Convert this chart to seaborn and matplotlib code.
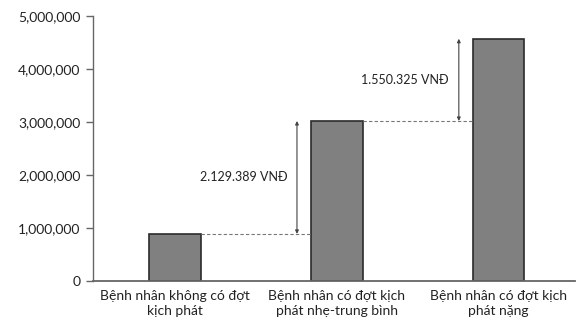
import matplotlib
matplotlib.use("Agg")
import matplotlib.pyplot as plt
import matplotlib.ticker as mticker
import seaborn as sns
import pandas as pd

# data
categories = ["Bệnh nhân không có đợt\nkịch phát",
              "Bệnh nhân có đợt kịch\nphát nhẹ-trung bình",
              "Bệnh nhân có đợt kịch\nphát nặng"]
costs = [890000, 3019389, 4569714]
diff_labels = ["2.129.389 VNĐ", "1.550.325 VNĐ"]

sns.set_style("white")
plt.rcParams['font.family'] = ['Lato', 'DejaVu Sans']

df = pd.DataFrame({'group': categories, 'cost': costs})

fig = plt.figure(figsize=(5.76, 3.25), dpi=100)
ax = fig.add_axes([0.1615, 0.135, 0.836, 0.816])

sns.barplot(data=df, x='group', y='cost', ax=ax, color='#808080',
            saturation=1, width=0.32, edgecolor='#2b2b2b', linewidth=1.2)

ax.set_ylim(0, 5000000)
ax.set_xlim(-0.505, 2.47)
ax.yaxis.set_major_locator(mticker.MultipleLocator(1000000))
ax.yaxis.set_major_formatter(mticker.FuncFormatter(lambda v, p: f"{int(v):,}"))
ax.set_xlabel('')
ax.set_ylabel('')

for s in ['top', 'right']:
    ax.spines[s].set_visible(False)
for s in ['left', 'bottom']:
    ax.spines[s].set_color('#666666')
    ax.spines[s].set_linewidth(1.0)
ax.spines['bottom'].set_linewidth(1.3)

ax.tick_params(axis='y', left=True, length=5, width=1, color='#666666',
               labelsize=10, labelcolor='#222222', pad=4)
ax.tick_params(axis='x', bottom=False, labelsize=10, labelcolor='#222222', pad=3)
for lbl in ax.get_xticklabels():
    lbl.set_linespacing(1.25)

# dashed guides and arrows between bars
for i in range(len(costs) - 1):
    lo, hi = costs[i], costs[i + 1]
    ax.plot([i + 0.16, i + 1 - 0.16], [lo, lo], ls='--', color='#777777', lw=0.8, dashes=(3, 2))
    xa = i + 0.755
    ax.annotate('', xy=(xa, hi), xytext=(xa, lo),
                arrowprops=dict(arrowstyle='<|-|>', color='#444444', lw=0.8,
                                mutation_scale=5, shrinkA=0, shrinkB=0))
    ax.text(xa - 0.06, (lo + hi) / 2, diff_labels[i], ha='right', va='center',
            fontsize=9, color='#222222')

fig.savefig('out.png', dpi=100)
